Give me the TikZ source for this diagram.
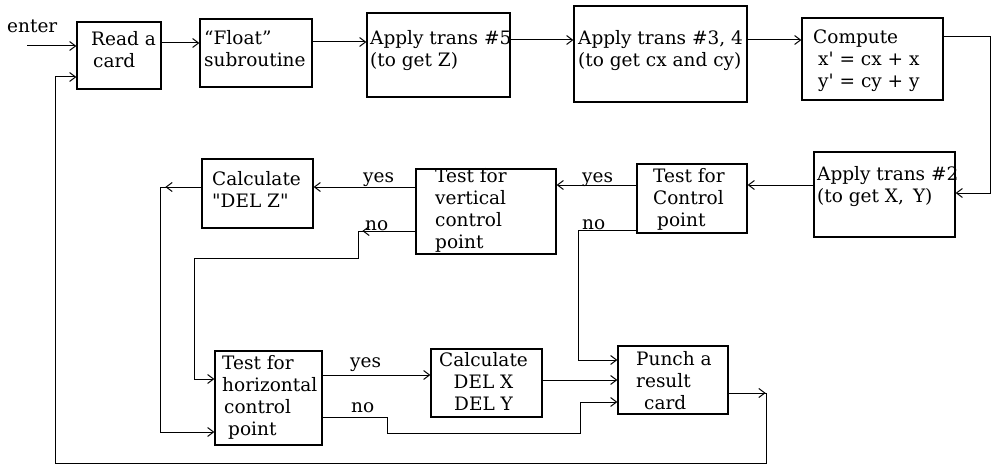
\documentclass[tikz,border=0pt]{standalone}
\usepackage{fontspec}
\setmainfont{DejaVu Serif}
\usetikzlibrary{arrows.meta,fit,decorations.markings}
\begin{document}
\begin{tikzpicture}[x=1pt,y=-1pt,
  box/.style={draw, line width=1.2pt, inner sep=0pt},
  txt/.style={anchor=north west, inner sep=0pt, align=left, yshift=15.4pt, font=\fontsize{18.5}{22}\selectfont},
  lbl/.style={anchor=base west, inner sep=0pt, font=\fontsize{18.5}{22}\selectfont},
  con/.style={line width=1pt},
  tip/.style={-{Straight Barb[length=6pt,width=9pt,line width=1pt]}},
  midtip/.style={postaction={decorate},decoration={markings, mark=at position #1 with {\arrow{Straight Barb[length=6pt,width=9pt,line width=1pt]}}}}
]
\useasboundingbox[fill=white] (0,0) rectangle (998,468);

% boxes
\node[box, fit={(77,22) (161,89)}] (rc) {};
\node[box, fit={(200,19) (312,87)}] (fl) {};
\node[box, fit={(367,13) (510,97)}] (t5) {};
\node[box, fit={(574,6) (747,102)}] (t34) {};
\node[box, fit={(802,18) (943,100)}] (cmp) {};
\node[box, fit={(814,152) (955,237)}] (t2) {};
\node[box, fit={(637,164) (747,233)}] (tc) {};
\node[box, fit={(416,169) (556,254)}] (tv) {};
\node[box, fit={(202,159) (313,228)}] (dz) {};
\node[box, fit={(215,351) (322,445)}] (th) {};
\node[box, fit={(431,349) (542,417)}] (dxy) {};
\node[box, fit={(618,346) (728,414)}] (pc) {};

% box texts (x, first baseline)
\node[txt] (rc-t) at (91,45) {\strut Read a\\\hspace*{2pt}card};
\node[txt] (fl-t) at (204,44) {\strut “Float”\\subroutine};
\node[txt] (t5-t) at (370,44) {\strut Apply trans \#5\\(to get Z)};
\node[txt] (t34-t) at (578,44) {\strut Apply trans \#3, 4\\(to get cx and cy)};
\node[txt] (cmp-t) at (813,43) {\strut Compute\\\hspace*{5pt}x\textquotesingle{} = cx + x\\\hspace*{5pt}y\textquotesingle{} = cy + y};
\node[txt] (t2-t) at (817,180) {\strut Apply trans \#2\\(to get X,\, Y)};
\node[txt] (tc-t) at (653,182) {\strut Test for\\Control\\\hspace*{4pt}point};
\node[txt] (tv-t) at (435,182) {\strut Test for\\vertical\\control\\point};
\node[txt] (dz-t) at (212,185) {\strut Calculate\\\textquotedbl DEL Z\textquotedbl};
\node[txt] (th-t) at (222,369) {\strut Test for\\horizontal\\\hspace*{2pt}control\\\hspace*{6pt}point};
\node[txt, align=center] (dxy-t) at (439,366) {\strut Calculate\\DEL X\\DEL Y};
\node[txt] (pc-t) at (636,365) {\strut Punch a\\result\\\hspace*{8pt}card};

% labels
\node[lbl] (enter) at (7,33) {enter};
\node[lbl] (yes1) at (582,182) {yes};
\node[lbl] (no1) at (582,229) {no};
\node[lbl] (yes2) at (363,182) {yes};
\node[lbl] (no2) at (365,230) {no};
\node[lbl] (yes3) at (350,367) {yes};
\node[lbl] (no3) at (351,412) {no};

% connectors
\coordinate (entry) at (27,46);
\draw[con,tip] (entry) -- (rc.west |- 0,46);
\draw[con,tip] (rc.east |- 0,43) -- (fl.west |- 0,43);
\draw[con,tip] (fl.east |- 0,42) -- (t5.west |- 0,42);
\draw[con,tip] (t5.east |- 0,40) -- (t34.west |- 0,40);
\draw[con,tip] (t34.east |- 0,40) -- (cmp.west |- 0,40);
\draw[con,tip] (cmp.east |- 0,37) -- (990,37) -- (990,193) -- (t2.east |- 0,193);
\draw[con,tip] (t2.west |- 0,185) -- (tc.east |- 0,185);
\draw[con,tip] (tc.west |- 0,185) -- (tv.east |- 0,185);
\draw[con,tip] (tv.west |- 0,187) -- (dz.east |- 0,187);
\draw[con,tip,midtip=36pt] (dz.west |- 0,187) -- (160,187) -- (160,432) -- (th.west |- 0,432);
\draw[con,tip,midtip=53pt] (tv.west |- 0,231) -- (358,231) -- (358,258) -- (194,258) -- (194,379) -- (th.west |- 0,379);
\draw[con,tip] (tc.west |- 0,230) -- (578,230) -- (578,360) -- (pc.west |- 0,360);
\draw[con,tip] (th.east |- 0,375) -- (dxy.west |- 0,375);
\draw[con,tip] (th.east |- 0,417) -- (387,417) -- (387,433) -- (580,433) -- (580,402) -- (pc.west |- 0,402);
\draw[con,tip] (dxy.east |- 0,380) -- (pc.west |- 0,380);
\draw[con,tip,midtip=37pt] (pc.east |- 0,393) -- (766,393) -- (766,463) -- (55,463) -- (55,77) -- (rc.west |- 0,77);
\end{tikzpicture}
\end{document}
